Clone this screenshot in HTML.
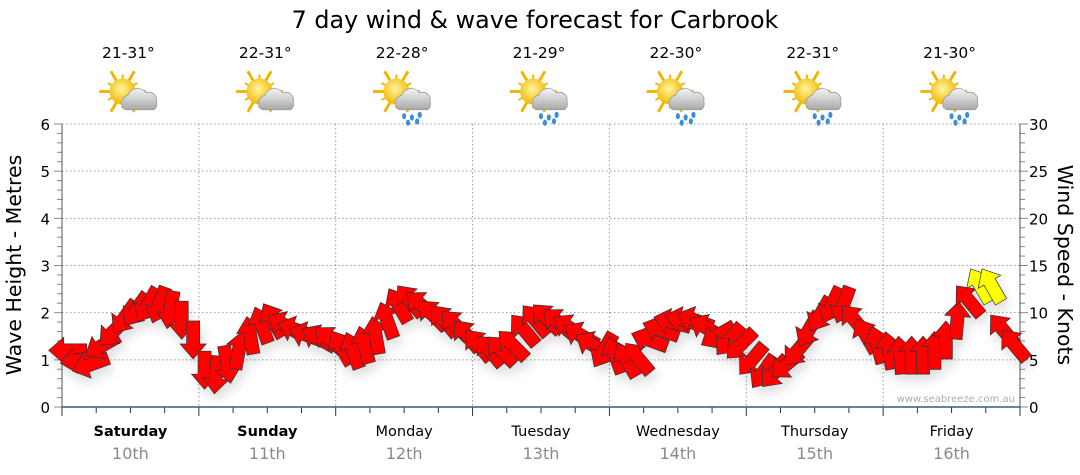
<!DOCTYPE html>
<html><head><meta charset="utf-8"><style>
body{margin:0;background:#fff;width:1080px;height:475px;overflow:hidden;font-family:"DejaVu Sans","Liberation Sans",sans-serif}
svg{display:block}
</style></head><body>
<svg id="chart" width="1080" height="475" xmlns="http://www.w3.org/2000/svg">
<defs>
<filter id="sh" x="-50%" y="-50%" width="200%" height="200%"><feDropShadow dx="3" dy="7" stdDeviation="5" flood-color="#000" flood-opacity="0.12"/></filter>
<radialGradient id="sun" cx="0.45" cy="0.4" r="0.6"><stop offset="0" stop-color="#fff6a0"/><stop offset="1" stop-color="#f2b600"/></radialGradient>
<linearGradient id="cloud" x1="0" y1="0" x2="0" y2="1"><stop offset="0" stop-color="#f4f4f4"/><stop offset="1" stop-color="#a8a8a8"/></linearGradient>
</defs>
<text x="535" y="28" text-anchor="middle" font-size="23.8" fill="#000">7 day wind &amp; wave forecast for Carbrook</text>
<g id="grid"></g>
<g id="axes"></g>
<g id="icons"></g>
<g id="arrows" filter="url(#sh)"></g>
<text x="1015" y="402" text-anchor="end" font-size="10" fill="#a6adb8">www.seabreeze.com.au</text>
<text transform="translate(21,265) rotate(-90)" text-anchor="middle" font-size="20.5">Wave Height - Metres</text>
<text transform="translate(1058,265) rotate(90)" text-anchor="middle" font-size="20.5">Wind Speed - Knots</text>
</svg>
<script>
const days=["Saturday","Sunday","Monday","Tuesday","Wednesday","Thursday","Friday"];
const dates=["10th","11th","12th","13th","14th","15th","16th"];
const temps=["21-31°","22-31°","22-28°","21-29°","22-30°","22-31°","21-30°"];
const rainy=[false,false,true,true,true,true,true];
const waveTicks=[0,1,2,3,4,5,6];
const windTicks=[0,5,10,15,20,25,30];
const windSpeed=[
6,5,4.5,6.5,8,9.5,10.3,10.8,10.8,10.3,9.2,7.1,
3.9,3.4,4.5,6,7.6,8.7,9.2,8.7,8.2,7.6,7.3,7.1,
6.3,6,6.6,7.6,9.2,10.8,11.3,10.8,9.8,9.2,8.7,7.6,
6.6,6,6,6.6,8.2,9.2,9.4,9,8.4,7.6,6.6,6,
5.5,5,5.2,7.1,8.2,9,9.2,9.2,8.4,7.6,7.1,6.6,
5,3.7,3.7,4.5,6,8.2,9.8,10.8,10.8,9.2,7.6,6.6,
6,5.5,5.5,5.5,6,7.1,9.2,11.3,12.9,12.9,8.2,6.6];
const windDir=[
270,260,250,240,225,215,215,210,200,190,180,180,
180,185,170,10,350,340,330,300,290,290,300,310,
330,340,345,350,340,330,320,310,315,320,315,320,
320,320,315,315,320,320,315,310,305,300,300,210,
340,330,320,290,290,285,285,290,300,240,220,225,
220,215,220,230,220,210,210,205,200,320,330,345,
350,355,0,0,0,0,5,320,330,330,320,320];
const X0=62,X1=1020,Y0=407,Y1=124,DW=(X1-X0)/7;
const NS="http://www.w3.org/2000/svg";
function yW(m){return Y0-(m/6)*(Y0-Y1);}
function yK(k){return Y0-(k/30)*(Y0-Y1);}
function xH(i){return X0+(i+0.5)*DW/12;}
function mk(t,a,p){const e=document.createElementNS(NS,t);for(const k in a)e.setAttribute(k,a[k]);(p||document.getElementById('chart')).appendChild(e);return e;}
const grid=document.getElementById('grid'),axes=document.getElementById('axes'),icons=document.getElementById('icons'),arr=document.getElementById('arrows');
waveTicks.forEach(v=>{
 if(v>0){const l=mk('line',{x1:X0,x2:X1,y1:yW(v),y2:yW(v),stroke:'#9a9a9a','stroke-dasharray':'1.5,2.5'},grid);
 
 }
 const t=mk('text',{x:50,y:yW(v)+6,'text-anchor':'end','font-size':15},axes);t.textContent=v;
 
 
});
windTicks.forEach(v=>{
 const t=mk('text',{x:1029,y:yK(v)+6,'font-size':15},axes);t.textContent=v;
 
 
});
for(let m=0;m<=30;m++){const y=yW(m*0.2);const len=m%5==0?8:5;
 mk('line',{x1:X0,x2:X0-len,y1:y,y2:y,stroke:'#888'},axes);
 mk('line',{x1:X1,x2:X1+len,y1:y,y2:y,stroke:'#888'},axes);}
mk('line',{x1:X0,x2:X0,y1:Y1,y2:Y0,stroke:'#555'},axes);
mk('line',{x1:X1,x2:X1,y1:Y1,y2:Y0,stroke:'#555'},axes);
for(let d=1;d<7;d++){const l=mk('line',{x1:X0+d*DW,x2:X0+d*DW,y1:Y1,y2:Y0,stroke:'#9a9a9a','stroke-dasharray':'1.5,2.5'},grid);
 
 }
for(let i=0;i<=28;i++){const x=X0+i*DW/4;mk('line',{x1:x,x2:x,y1:Y0,y2:Y0+(i%4==0?9:6),stroke:'#333'},axes);}
mk('line',{x1:X0,x2:X1,y1:Y0,y2:Y0,stroke:'#2a5d8a','stroke-width':1.5},axes);
days.forEach((d,i)=>{
 const cx=X0+(i+0.5)*DW;
 const t=mk('text',{x:cx,y:436,'text-anchor':'middle','font-size':14.5,'font-weight':i<2?'bold':'normal'},axes);t.textContent=d;
 
 
 const t2=mk('text',{x:cx,y:459,'text-anchor':'middle','font-size':16,fill:'#8a8a8a'},axes);t2.textContent=dates[i];
 
 
 const t3=mk('text',{x:cx-2,y:58,'text-anchor':'middle','font-size':15.5},icons);t3.textContent=temps[i];
 
 
 const g=mk('g',{transform:`translate(${cx},98) scale(1.3)`},icons);
 
 
 for(let r=0;r<12;r++){const a=r*30*Math.PI/180;const L=r%2?13:18;
  mk('line',{x1:-6+Math.cos(a)*7,y1:-5+Math.sin(a)*7,x2:-6+Math.cos(a)*L,y2:-5+Math.sin(a)*L,stroke:'#f0b400','stroke-width':r%2?1.5:2.2},g);}
 mk('circle',{cx:-6,cy:-5,r:10,fill:'url(#sun)'},g);
 mk('path',{d:'M-4,9 a6,6 0 0 1 2,-11 a8,8 0 0 1 14,-2 a6,6 0 0 1 8,7 a5,5 0 0 1 -2,6 z',fill:'url(#cloud)',stroke:'#999','stroke-width':0.6},g);
 if(rainy[i]){[[0,14],[6,15],[12,13],[3,19],[10,18]].forEach(p=>mk('ellipse',{cx:p[0],cy:p[1],rx:1.6,ry:2.4,fill:'#3a8fd8'},g));}
});
windSpeed.forEach((k,i)=>{
 const x=xH(i),y=yK(k);
 const p=mk('path',{d:'M0,-19 L13,-4 L6.5,-4 L6.5,19 L-6.5,19 L-6.5,-4 L-13,-4 Z',fill:k>=12?'#ffff00':'#ff0000',stroke:'#333','stroke-width':0.7,'stroke-linejoin':'miter',transform:`translate(${x},${y}) rotate(${windDir[i]})`},arr);
 
 
});
</script>
</body></html>
